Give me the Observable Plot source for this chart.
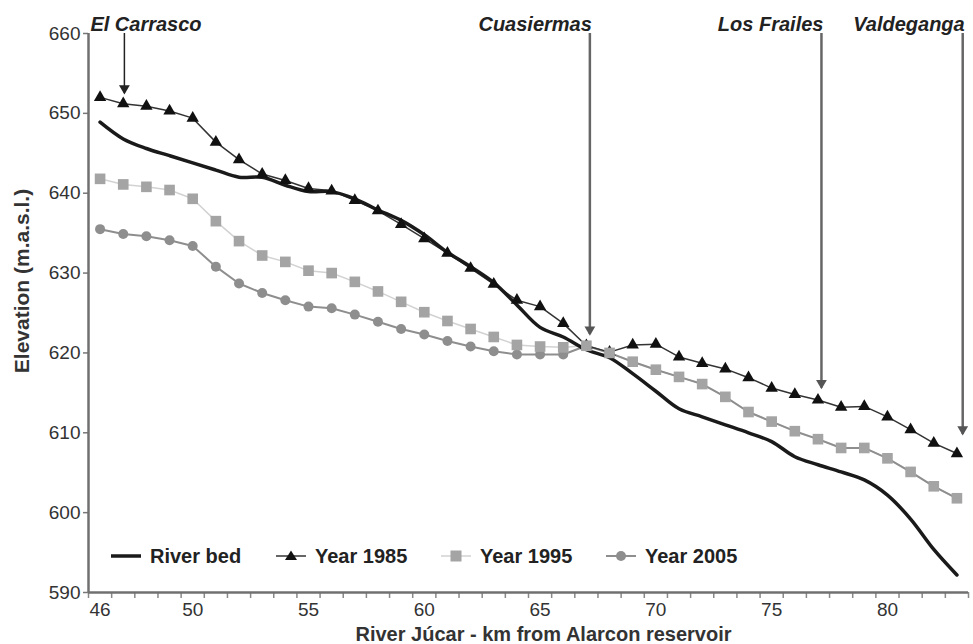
<!DOCTYPE html>
<html>
<head>
<meta charset="utf-8">
<script src="https://cdn.jsdelivr.net/npm/d3@7"></script>
<script src="https://cdn.jsdelivr.net/npm/@observablehq/plot@0.6"></script>
<style>
  body { margin: 0; background: #fff; font-family: "Liberation Sans", Arial, sans-serif; }
  #wrap { position: relative; width: 973px; height: 644px; }
  #legend { position: absolute; left: 110px; top: 543px; display: flex; }
  .item { width: 165px; display: flex; align-items: center; height: 26px; }
  .item svg { margin-right: 8px; }
  .item span { font-weight: bold; font-size: 20px; color: #222; white-space: nowrap; }
</style>
</head>
<body>
<div id="wrap"><div id="chart"></div><div id="legend"></div></div>
<script>
// ---- data ----
const km = [46,47,48,49,50,51,52,53,54,55,56,57,58,59,60,61,62,63,64,65,66,67,68,69,70,71,72,73,74,75,76,77,78,79,80,81,82,83];
const riverBed = [648.9,646.8,645.6,644.7,643.8,642.9,642.0,642.0,641.0,640.2,640.2,639.3,637.9,636.6,634.8,632.6,630.8,628.8,626.0,623.2,622.0,620.4,619.4,617.4,615.2,613.0,612.0,611.0,610.0,608.9,607.0,606.0,605.1,604.1,602.2,599.2,595.4,592.2];
const year1985 = [652.0,651.2,650.9,650.3,649.4,646.4,644.2,642.4,641.6,640.6,640.3,639.1,637.8,636.1,634.3,632.5,630.6,628.6,626.6,625.8,623.7,620.9,620.1,621.0,621.1,619.5,618.7,618.0,616.9,615.6,614.8,614.1,613.2,613.3,612.0,610.4,608.7,607.4];
const year1995 = [641.8,641.1,640.8,640.4,639.3,636.5,634.0,632.2,631.4,630.3,630.0,628.9,627.7,626.4,625.1,624.0,623.0,622.0,621.0,620.8,620.7,620.9,620.0,618.9,617.9,617.0,616.1,614.5,612.6,611.4,610.2,609.2,608.1,608.1,606.8,605.1,603.3,601.8];
const year2005 = [635.5,634.9,634.6,634.1,633.4,630.8,628.7,627.5,626.6,625.8,625.6,624.8,623.9,623.0,622.3,621.5,620.8,620.2,619.8,619.8,619.8,620.9,620.0,618.9,617.9,617.0,616.1,614.5,612.6,611.4,610.2,609.2,608.1,608.1,606.8,605.1,603.3,601.8];
const stationNames = ["El Carrasco", "Cuasiermas", "Los Frailes", "Valdeganga"];
const stationKm = [47.05, 67.15, 77.15, 83.25];
const stationTip = [652.5, 622.3, 615.6, 609.8];
const xTickLabels = [46, 50, 55, 60, 65, 70, 75, 80];
const yTickLabels = [590, 600, 610, 620, 630, 640, 650, 660];
const seriesNames = ["River bed", "Year 1985", "Year 1995", "Year 2005"];
const xTitle = "River Júcar - km from Alarcon reservoir";
const yTitle = "Elevation (m.a.s.l.)";

// ---- tables ----
const rows = (vals) => km.map((k, i) => ({km: k, value: vals[i]}));
const bed = rows(riverBed), s85 = rows(year1985), s95 = rows(year1995), s05 = rows(year2005);
const s05marks = s05.filter(d => d.km <= 66);
const stations = stationNames.map((n, i) => ({name: n, km: stationKm[i], tip: stationTip[i], top: 660}));
const minorTicks = d3.range(km.length + 1).map(i => km[0] - 0.5 + i);

const FONT = "Liberation Sans, Arial, sans-serif";

const chart = Plot.plot({
  width: 973, height: 644,
  marginLeft: 88, marginRight: 5, marginTop: 33, marginBottom: 52,
  style: {fontFamily: FONT, background: "#fff", overflow: "visible"},
  x: {domain: [45.5, 83.5]},
  y: {domain: [590, 660]},
  marks: [
    Plot.axisY({ticks: yTickLabels, tickSize: 5, tickPadding: 3, fontSize: 19, fill: "#333", stroke: "#777", strokeWidth: 1.5, label: null}),
    Plot.axisX({ticks: minorTicks, tickSize: 6, tickFormat: () => "", stroke: "#888", strokeWidth: 1.5, label: null}),
    Plot.axisX({ticks: xTickLabels, tickSize: 0, tickPadding: 10, fontSize: 19, fill: "#333", label: null}),
    Plot.ruleX([45.5], {stroke: "#707070", strokeWidth: 2.5}),
    Plot.ruleY([590], {stroke: "#707070", strokeWidth: 2.5}),
    // arrows
    Plot.ruleX(stations, {x: "km", y1: "top", y2: "tip", stroke: (d, i) => i === 0 ? "#222" : "#666", strokeWidth: (d, i) => i === 0 ? 1.5 : 2.5}),
    Plot.dot(stations, {x: "km", y: "tip", symbol: "triangle", rotate: 180, r: 4, dy: -5, fill: (d, i) => i === 0 ? "#222" : "#555", stroke: "none"}),
    // lines
    Plot.line(s95, {x: "km", y: "value", stroke: "#d2d2d2", strokeWidth: 1.5}),
    Plot.line(s05, {x: "km", y: "value", stroke: "#8e8e8e", strokeWidth: 2}),
    Plot.line(s85, {x: "km", y: "value", stroke: "#333", strokeWidth: 1.5}),
    Plot.line(bed, {x: "km", y: "value", stroke: "#1a1a1a", strokeWidth: 3.5, curve: "catmull-rom"}),
    // markers
    Plot.dot(s85, {x: "km", y: "value", symbol: "triangle", r: 4.6, fill: "#111", stroke: "none"}),
    Plot.dot(s05marks, {x: "km", y: "value", symbol: "circle", r: 5, fill: "#8e8e8e", stroke: "none"}),
    Plot.dot(s95, {x: "km", y: "value", symbol: "square", r: 6, fill: "#a4a4a4", stroke: "none"}),
    // station labels
    Plot.text(stations.filter((d, i) => i === 0), {x: "km", y: "top", text: "name", textAnchor: "start", lineAnchor: "bottom", dx: -34, dy: -3, fontSize: 20, fontWeight: "bold", fontStyle: "italic", fill: "#222"}),
    Plot.text(stations.filter((d, i) => i > 0), {x: "km", y: "top", text: "name", textAnchor: "end", lineAnchor: "bottom", dx: 2, dy: -3, fontSize: 20, fontWeight: "bold", fontStyle: "italic", fill: "#222"}),
    // axis titles
    Plot.text([yTitle], {frameAnchor: "left", textAnchor: "middle", lineAnchor: "middle", rotate: -90, dx: -66, dy: -32, fontSize: 21, fontWeight: "bold", fill: "#333"}),
    Plot.text([xTitle], {frameAnchor: "bottom", textAnchor: "middle", lineAnchor: "bottom", dx: 15, dy: 48, fontSize: 20, fontWeight: "bold", fill: "#333"})
  ]
});
document.getElementById("chart").appendChild(chart);

// ---- legend ----
const icons = [
  `<svg width="32" height="26"><line x1="1" x2="31" y1="13" y2="13" stroke="#1a1a1a" stroke-width="3.5"/></svg>`,
  `<svg width="32" height="26"><line x1="1" x2="31" y1="13" y2="13" stroke="#333" stroke-width="1.5"/><polygon points="16,7.5 22,17 10,17" fill="#111"/></svg>`,
  `<svg width="32" height="26"><line x1="1" x2="31" y1="13" y2="13" stroke="#d2d2d2" stroke-width="1.5"/><rect x="10.5" y="7.5" width="11" height="11" fill="#a4a4a4"/></svg>`,
  `<svg width="32" height="26"><line x1="1" x2="31" y1="13" y2="13" stroke="#8e8e8e" stroke-width="2"/><circle cx="16" cy="13" r="5" fill="#8e8e8e"/></svg>`
];
document.getElementById("legend").innerHTML = seriesNames.map((n, i) =>
  `<div class="item">${icons[i]}<span>${n}</span></div>`).join("");
</script>
</body>
</html>
